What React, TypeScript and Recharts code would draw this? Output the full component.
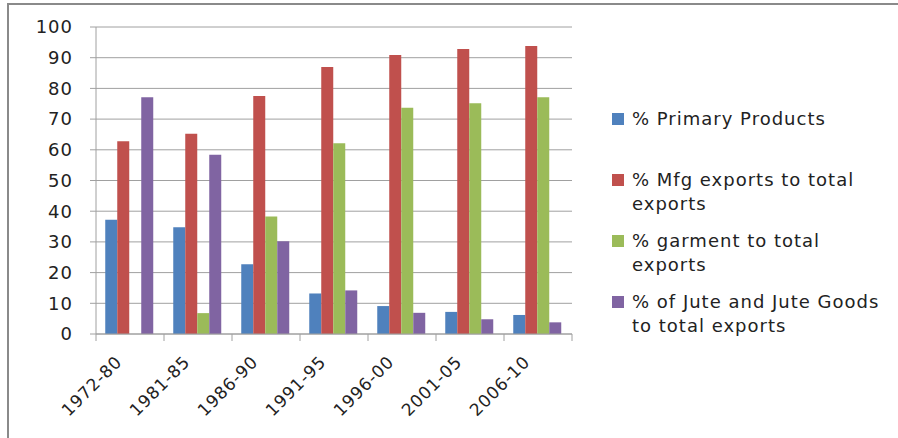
import { Bar, BarChart, CartesianGrid, XAxis, YAxis } from "recharts";

const periods = ["1972-80", "1981-85", "1986-90", "1991-95", "1996-00", "2001-05", "2006-10"];
const primaryProducts = [37.2, 34.8, 22.7, 13.2, 9.1, 7.2, 6.2];
const mfgExports = [62.8, 65.2, 77.5, 87.0, 90.9, 92.8, 93.8];
const garmentExports = [null, 6.8, 38.3, 62.1, 73.7, 75.2, 77.1];
const juteExports = [77.1, 58.4, 30.2, 14.2, 6.9, 4.8, 3.8];
const yTicks = [0, 10, 20, 30, 40, 50, 60, 70, 80, 90, 100];

const series = [
    { key: "primary", values: primaryProducts, color: "#4F81BD", lines: ["% Primary Products"] },
    { key: "mfg", values: mfgExports, color: "#C0504D", lines: ["% Mfg exports to total", "exports"] },
    { key: "garment", values: garmentExports, color: "#9BBB59", lines: ["% garment to total", "exports"] },
    { key: "jute", values: juteExports, color: "#8064A2", lines: ["% of Jute and Jute Goods", "to total exports"] },
];

const data = periods.map((period, i) => {
    const row: Record<string, string | number | null> = { period };
    series.forEach((s) => { row[s.key] = s.values[i]; });
    return row;
});

const FONT = "'DejaVu Sans', sans-serif";
const AXIS = "#a0a0a0";

// category boundary ticks plus a rotated label at each category
function PeriodTick(props: any) {
    const { x, y, payload, index, visibleTicksCount } = props;
    const half = payload.offset || 34;
    const last = index === visibleTicksCount - 1;
    return (
        <g>
            <line x1={x - half} x2={x - half} y1={y} y2={y + 7} stroke={AXIS} />
            {last && <line x1={x + half} x2={x + half} y1={y} y2={y + 7} stroke={AXIS} />}
            <text
                transform={`translate(${x - 7},${y + 29}) rotate(-45)`}
                textAnchor="end"
                fontFamily={FONT}
                fontSize={17}
                letterSpacing={0.8}
                fill="#222"
            >
                {payload.value}
            </text>
        </g>
    );
}

function SeriesLegend() {
    return (
        <div style={{ position: "absolute", left: 612, top: 107, width: 290, fontFamily: FONT, fontSize: 18, letterSpacing: 1, color: "#222" }}>
            {series.map((s, i) => (
                <div key={s.key} style={{ position: "absolute", left: 0, top: i * 61, width: 290 }}>
                    <div style={{ position: "absolute", left: 0, top: 6, width: 12, height: 12, background: s.color }} />
                    <div style={{ marginLeft: 20, lineHeight: "24px", whiteSpace: "nowrap" }}>
                        {s.lines.map((l) => <div key={l}>{l}</div>)}
                    </div>
                </div>
            ))}
        </div>
    );
}

export default function App() {
    return (
        <div style={{ position: "fixed", left: 0, top: 0, width: 898, height: 438, background: "#fff", overflow: "hidden" }}>
            <div style={{ position: "absolute", left: 7, top: 3, right: -10, bottom: -10, borderTop: "2px solid #8a8a8a", borderLeft: "2px solid #8a8a8a" }} />
            <BarChart
                width={898}
                height={438}
                data={data}
                margin={{ top: 27, right: 326, left: 0, bottom: 0 }}
                barCategoryGap="13.6%"
                barGap={0}
            >
                <CartesianGrid vertical={false} stroke={AXIS} />
                <XAxis
                    dataKey="period"
                    height={104}
                    axisLine={{ stroke: AXIS }}
                    tickLine={false}
                    tickSize={0}
                    tickMargin={0}
                    interval={0}
                    tick={<PeriodTick />}
                />
                <YAxis
                    width={96}
                    domain={[0, 100]}
                    ticks={yTicks}
                    interval={0}
                    axisLine={{ stroke: AXIS }}
                    tickLine={{ stroke: AXIS }}
                    tickSize={6}
                    tickMargin={17}
                    tick={{ fontFamily: FONT, fontSize: 18, letterSpacing: 1, fill: "#222" }}
                />
                {series.map((s) => (
                    <Bar key={s.key} dataKey={s.key} fill={s.color} isAnimationActive={false} />
                ))}
            </BarChart>
            <SeriesLegend />
        </div>
    );
}
